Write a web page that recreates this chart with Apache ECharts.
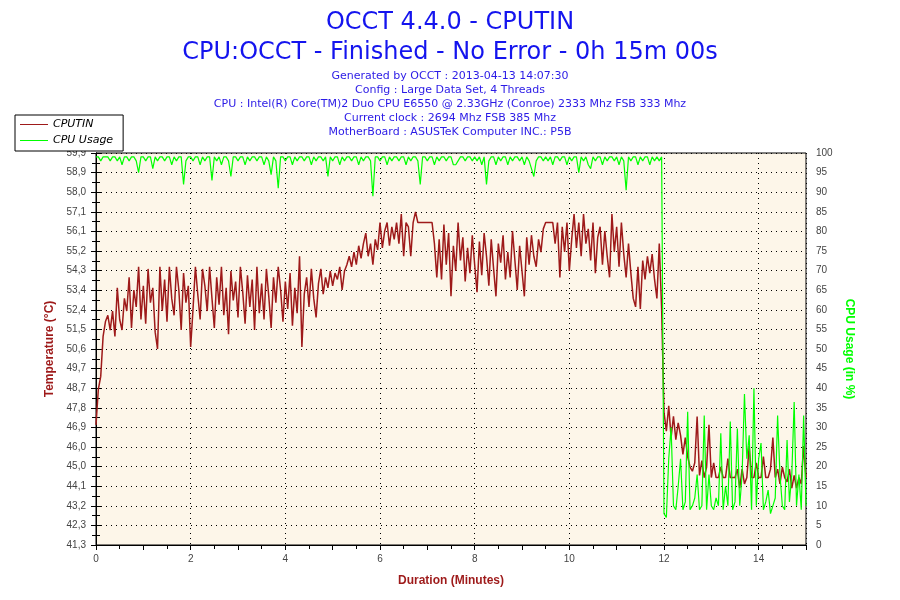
<!DOCTYPE html>
<html>
<head>
<meta charset="utf-8">
<title>OCCT 4.4.0 - CPUTIN</title>
<script src="https://cdn.jsdelivr.net/npm/echarts@6/dist/echarts.min.js"></script>
<style>
  html, body { margin: 0; padding: 0; background: #fff; }
  #chart { width: 900px; height: 600px; }
</style>
</head>
<body>
<div id="chart"></div>
<script>
  // one sample every 3 s (0.05 min), 0 .. 15 min
  const sampleStep = 0.05;

  // CPUTIN temperature (°C)
  const temperature = [
    47.0, 48.7, 49.3, 51.2, 51.9, 52.2, 51.5, 52.4, 51.2, 53.5,
    52.0, 51.5, 53.0, 52.4, 54.0, 51.6, 53.4, 52.6, 54.5, 52.0,
    53.6, 51.8, 54.4, 52.8, 53.5, 51.4, 50.6, 54.5, 52.4, 53.9,
    51.9, 54.5, 53.0, 52.2, 54.5, 53.4, 51.5, 54.2, 52.8, 53.6,
    50.7, 52.5, 54.5, 53.2, 52.0, 54.4, 53.6, 52.4, 54.5, 53.0,
    51.6, 54.0, 52.7, 54.5, 52.2, 53.5, 51.3, 54.3, 52.9, 53.8,
    52.1, 54.5, 53.3, 51.8, 54.1, 52.6, 53.9, 51.5, 54.5, 52.3,
    53.7, 52.0, 54.4, 53.1, 51.6, 54.0, 52.8, 54.5, 53.4, 51.9,
    53.8, 52.5, 54.2, 51.7, 53.5, 52.3, 55.0, 50.7, 53.2, 54.0,
    52.6, 54.4, 53.0, 52.1, 53.7, 54.4, 53.2, 54.0, 53.5, 54.3,
    53.6, 54.2, 53.9, 54.5, 53.4, 54.3, 54.6, 55.0, 54.5, 55.2,
    54.6, 55.5, 54.9, 55.6, 56.1, 55.0, 55.6, 54.6, 55.8, 55.3,
    56.6, 55.4, 56.2, 56.6, 55.5, 56.4, 55.8, 56.6, 55.6, 57.0,
    55.0, 56.6, 56.4, 55.0, 56.6, 57.1, 56.6, 56.6, 56.6, 56.6,
    56.6, 56.6, 56.6, 55.6, 54.0, 55.8, 53.9, 56.5, 54.6, 56.1,
    53.1, 55.5, 54.3, 56.6, 54.8, 55.9, 53.8, 55.4, 54.2, 56.0,
    54.6, 53.3, 55.7, 54.1, 56.1, 55.0, 53.6, 55.8, 54.4, 53.1,
    55.6, 54.7, 56.0, 53.9, 55.2, 54.0, 56.2, 54.8, 53.4, 55.5,
    54.3, 53.1, 55.9, 54.6, 56.0, 55.0, 54.5, 55.8, 55.2, 56.3,
    56.6, 56.6, 56.6, 56.6, 55.6, 56.6, 54.0, 56.4, 55.2, 56.6,
    54.3, 55.8, 57.0, 55.4, 56.6, 55.0, 57.0, 55.6, 56.3, 54.8,
    56.6, 54.2, 55.9, 56.4, 54.6, 56.2, 55.0, 54.0, 57.0, 55.2,
    56.4, 54.5, 56.6, 55.1, 54.0, 55.6, 54.2, 53.0, 52.6, 54.5,
    52.5, 54.8, 53.9, 55.0, 54.2, 55.1, 53.9, 53.0, 55.6, 52.5,
    47.6, 46.7, 47.9, 46.4, 47.4, 46.3, 47.1, 46.5, 45.6, 46.4,
    45.5, 45.0, 44.8, 45.2, 47.4, 44.6, 45.3, 44.5, 45.0, 47.0,
    44.5, 45.2, 44.5, 44.5, 45.0, 44.5, 44.5, 45.4, 44.5, 44.5,
    44.5, 44.9, 44.0, 44.9, 44.2, 44.5, 46.0, 44.5, 44.5, 45.2,
    44.5, 44.5, 45.5, 44.5, 44.5, 44.9, 46.4, 44.5, 44.9, 44.2,
    45.0, 44.5, 44.3, 44.9, 44.0, 44.6, 44.0, 44.5, 44.2, 46.0,
    44.5
  ];

  // CPU usage (%)
  const cpuUsage = [
    99, 99, 98, 99, 99, 99, 98, 99, 99, 98,
    99, 97, 99, 99, 98, 99, 99, 98, 95, 99,
    99, 98, 99, 99, 96, 99, 98, 99, 99, 98,
    99, 99, 97, 99, 98, 99, 99, 92, 98, 99,
    99, 98, 99, 99, 97, 99, 98, 99, 99, 93,
    99, 98, 99, 97, 99, 99, 98, 94, 99, 99,
    98, 99, 99, 97, 99, 98, 99, 99, 98, 99,
    99, 97, 99, 98, 94.5, 99, 98, 91, 99, 99,
    98, 99, 99, 97, 99, 98, 99, 99, 98, 99,
    99, 97, 99, 98, 99, 99, 98, 99, 94, 99,
    98, 99, 99, 97, 99, 98, 99, 99, 98, 99,
    99, 97, 99, 98, 99, 99, 98, 89, 99, 99,
    98, 99, 99, 97, 99, 98, 99, 99, 98, 99,
    99, 97, 99, 98, 99, 99, 98, 92, 99, 99,
    98, 99, 99, 97, 99, 98, 99, 99, 98, 99,
    99, 97, 97, 98, 99, 99, 98, 99, 99, 98,
    99, 98, 99, 97, 99, 92, 98, 99, 99, 97,
    99, 98, 99, 99, 97, 99, 98, 99, 99, 98,
    99, 97, 99, 98, 96, 94, 98, 99, 99, 98,
    99, 98, 99, 97, 99, 99, 98, 99, 99, 97,
    99, 98, 99, 99, 95, 99, 98, 99, 97, 96,
    99, 98, 99, 99, 97, 99, 98, 99, 99, 98,
    99, 97, 99, 98, 90.5, 99, 98, 99, 99, 97,
    99, 98, 99, 99, 97, 99, 98, 99, 98, 99,
    8, 7, 22, 30, 10, 9, 15, 22, 9, 11,
    34, 9, 10, 12, 18, 9, 10, 33, 9, 18,
    10, 9, 12, 10, 28.5, 9, 15, 10, 31.5, 9,
    11, 29.7, 10, 18, 38.5, 22, 28, 9, 40, 10,
    22, 26, 9, 11, 14, 8, 10, 12, 33, 18,
    10, 9, 26.8, 11, 18, 36.5, 10, 18, 9, 33,
    10
  ];

  const minutes = temperature.map((_, i) => +(i * sampleStep).toFixed(2));

  // left axis tick labels, bottom to top
  const tempTicks = ['41,3', '42,3', '43,2', '44,1', '45,0', '46,0', '46,9', '47,8', '48,7', '49,7',
    '50,6', '51,5', '52,4', '53,4', '54,3', '55,2', '56,1', '57,1', '58,0', '58,9', '59,9'];
  const tempMin = 41.3;
  const tempStep = 0.93;
  const tempMax = 59.9;

  const infoLines = [
    'Generated by OCCT : 2013-04-13 14:07:30',
    'Config : Large Data Set, 4 Threads',
    'CPU : Intel(R) Core(TM)2 Duo CPU E6550 @ 2.33GHz (Conroe) 2333 Mhz FSB 333 Mhz',
    'Current clock : 2694 Mhz FSB 385 Mhz',
    'MotherBoard : ASUSTeK Computer INC.: P5B'
  ];

  const red = '#9e1a1a';
  const green = '#00ff00';
  const blue = '#1414ee';
  const tickFont = { fontFamily: 'Liberation Sans', fontSize: 10, color: '#444' };

  // one title block per line of header text
  const titles = [
    { text: 'OCCT 4.4.0 - CPUTIN', left: 'center', top: 6,
      textStyle: { fontFamily: 'DejaVu Sans', fontSize: 24, fontWeight: 'normal', color: blue } },
    { text: 'CPU:OCCT - Finished - No Error - 0h 15m 00s', left: 'center', top: 36,
      textStyle: { fontFamily: 'DejaVu Sans', fontSize: 24, fontWeight: 'normal', color: blue } }
  ];
  infoLines.forEach((line, k) => {
    titles.push({
      text: line, left: 'center', top: 71 + k * 13.8, padding: 0,
      textStyle: { fontFamily: 'DejaVu Sans', fontSize: 11, fontWeight: 'normal', color: '#2a1ae6' }
    });
  });

  let myChart = echarts.init(document.getElementById('chart'));
  myChart.setOption({
    animation: false,
    backgroundColor: '#fff',
    title: titles,
    legend: {
      orient: 'vertical',
      left: 15, top: 115,
      padding: [4, 10, 5, 5],
      itemGap: 5,
      itemWidth: 28,
      itemHeight: 12,
      backgroundColor: '#fff',
      borderColor: '#000',
      borderWidth: 1,
      z: 10,
      textStyle: { fontFamily: 'DejaVu Sans', fontSize: 11, fontStyle: 'italic', color: '#000' },
      data: [
        { name: 'CPUTIN', icon: 'path://M0,5 L28,5 L28,6 L0,6 Z', itemStyle: { color: red } },
        { name: 'CPU Usage', icon: 'path://M0,5 L28,5 L28,6 L0,6 Z', itemStyle: { color: green } }
      ]
    },
    grid: {
      left: 96, right: 94, top: 153, bottom: 55,
      show: true,
      backgroundColor: '#fdf6e9',
      borderColor: '#000',
      borderWidth: 1
    },
    xAxis: [
      {
        type: 'value',
        min: 0, max: 15, interval: 1,
        name: 'Duration (Minutes)',
        nameLocation: 'middle',
        nameGap: 30,
        nameTextStyle: { fontFamily: 'Liberation Sans', fontSize: 12, fontWeight: 'bold', color: red },
        axisLine: { lineStyle: { color: '#000', width: 1 } },
        axisTick: { length: 5, lineStyle: { color: '#000' } },
        minorTick: { show: true, splitNumber: 2, length: 4, lineStyle: { color: '#000' } },
        axisLabel: Object.assign({ margin: 9, formatter: v => (v % 2 === 0 ? String(v) : '') }, tickFont),
        splitLine: { show: false }
      },
      {
        // dotted vertical grid every 2 minutes
        type: 'value',
        min: 0, max: 15, interval: 2,
        position: 'bottom',
        axisLine: { show: false },
        axisTick: { show: false },
        axisLabel: { show: false },
        splitLine: { show: true, lineStyle: { color: '#000', type: [1, 4], width: 1 } }
      }
    ],
    yAxis: [
      {
        type: 'value',
        min: tempMin, max: tempMax, interval: tempStep,
        position: 'left',
        name: 'Temperature (°C)',
        nameLocation: 'middle',
        nameGap: 39,
        nameTextStyle: { fontFamily: 'Liberation Sans', fontSize: 12, fontWeight: 'bold', color: red },
        axisLine: { show: true, lineStyle: { color: '#000', width: 1 } },
        axisTick: { show: true, length: 5, lineStyle: { color: '#000' } },
        minorTick: { show: true, splitNumber: 2, length: 4, lineStyle: { color: '#000' } },
        axisLabel: Object.assign({
          margin: 10,
          formatter: v => tempTicks[Math.round((v - tempMin) / tempStep)] || ''
        }, tickFont),
        splitLine: { show: true, lineStyle: { color: '#000', type: [1, 4], width: 1 } }
      },
      {
        type: 'value',
        min: 0, max: 100, interval: 5,
        position: 'right',
        name: 'CPU Usage (in %)',
        nameLocation: 'middle',
        nameGap: 37,
        nameRotate: -90,
        nameTextStyle: { fontFamily: 'Liberation Sans', fontSize: 12, fontWeight: 'bold', color: green },
        axisLine: { show: true, lineStyle: { color: '#000', width: 1 } },
        axisTick: { show: true, length: 5, lineStyle: { color: '#000' } },
        minorTick: { show: true, splitNumber: 2, length: 4, lineStyle: { color: '#000' } },
        axisLabel: Object.assign({ margin: 10 }, tickFont),
        splitLine: { show: false }
      }
    ],
    series: [
      {
        name: 'CPUTIN',
        type: 'line',
        xAxisIndex: 0,
        yAxisIndex: 0,
        showSymbol: false,
        symbol: 'none',
        lineStyle: { color: red, width: 1.5 },
        itemStyle: { color: red },
        data: minutes.map((m, i) => [m, temperature[i]])
      },
      {
        name: 'CPU Usage',
        type: 'line',
        xAxisIndex: 0,
        yAxisIndex: 1,
        showSymbol: false,
        symbol: 'none',
        lineStyle: { color: green, width: 1.2 },
        itemStyle: { color: green },
        data: minutes.map((m, i) => [m, cpuUsage[i]])
      }
    ]
  });
</script>
</body>
</html>
